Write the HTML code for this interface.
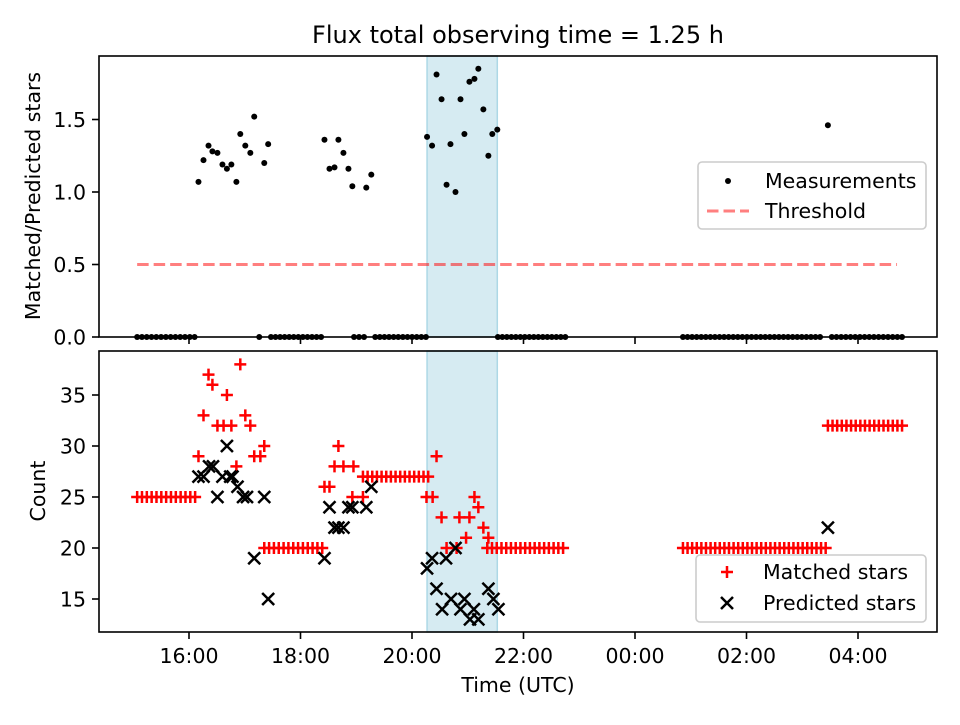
<!DOCTYPE html>
<html><head><meta charset="utf-8"><style>
body{margin:0;background:#fff;}
svg{font-family:"DejaVu Sans","Liberation Sans",sans-serif;}
</style></head><body>
<svg id="c" width="960" height="720" viewBox="0 0 960 720" xmlns="http://www.w3.org/2000/svg">
<rect width="960" height="720" fill="#fff"/>
<text x="518" y="43" font-size="24" text-anchor="middle">Flux total observing time = 1.25 h</text>
<g id="topPanel"></g><g id="botPanel"></g>
</svg>
<script>
// ---- data ----
const xTickHours = [16, 18, 20, 22, 24, 26, 28];
const xTickLabels = ["16:00","18:00","20:00","22:00","00:00","02:00","04:00"];
const topTicks = [0.0, 0.5, 1.0, 1.5];
const botTicks = [15, 20, 25, 30, 35];
const spanStart = 20.27, spanEnd = 21.53;
const thresholdValue = 0.5, thresholdStart = 15.07, thresholdEnd = 28.7;
const measTimes = [16.17,16.26,16.35,16.42,16.51,16.60,16.68,16.76,16.85,16.92,17.01,17.10,17.17,17.35,17.42,
 18.43,18.52,18.61,18.68,18.77,18.86,18.93,19.18,19.27,
 20.27,20.36,20.44,20.53,20.62,20.69,20.78,20.87,20.94,21.03,21.12,21.19,21.28,21.37,21.44,21.53,27.46];
const measValues = [1.07,1.22,1.32,1.28,1.27,1.19,1.16,1.19,1.07,1.40,1.32,1.27,1.52,1.20,1.33,
 1.36,1.16,1.17,1.36,1.27,1.16,1.04,1.03,1.12,
 1.38,1.32,1.81,1.64,1.05,1.33,1.00,1.64,1.40,1.76,1.78,1.85,1.57,1.25,1.40,1.43,1.46];
const zeroSegments = [[15.07,16.10],[17.26,17.26],[17.47,18.37],[18.96,19.14],[19.34,20.25],[21.54,22.75],[24.86,27.32],[27.53,28.79]];
const matchedSegments = [[15.07,16.11,25],[17.35,18.39,20],[19.12,20.29,27],[21.35,22.71,20],[24.86,27.42,20],[27.46,28.79,32]];
const matchedTimes = [16.17,16.26,16.35,16.42,16.51,16.62,16.76,16.68,16.92,17.01,17.10,16.85,17.17,17.28,17.35,
 18.43,18.52,18.61,18.68,18.77,18.95,18.93,19.12,
 20.44,20.26,20.37,20.53,20.85,21.03,21.12,21.19,20.97,21.28,21.37,20.62,20.80];
const matchedValues = [29,33,37,36,32,32,32,35,38,33,32,28,29,29,30,
 26,26,28,30,28,28,25,25,
 29,25,25,23,23,23,25,24,21,22,21,20,20];
const predTimes = [16.68,16.36,16.43,16.17,16.26,16.60,16.74,16.87,16.78,16.51,16.97,17.04,17.35,17.17,17.42,
 18.43,18.52,18.61,18.68,18.77,19.27,18.86,18.93,19.18,
 20.27,20.36,20.61,20.78,20.44,20.54,20.70,20.87,20.94,21.04,21.19,21.11,21.37,21.46,21.55,27.46];
const predValues = [30,28,28,27,27,27,27,26,27,25,25,25,25,19,15,
 19,24,22,22,22,26,24,24,24,
 18,19,19,20,16,14,15,14,15,13,13,14,16,15,14,22];

// ---- scales ----
const X0=99,X1=937;
const xs = t => 189 + (t-16)*55.75;
const yTop = v => 337 - v*145;
const yBot = v => 497 - (v-25)*10.2;
const NS="http://www.w3.org/2000/svg";
const FS=20.5;
function mk(parent, tag, attrs){const e=document.createElementNS(NS,tag);for(const k in attrs)e.setAttribute(k,attrs[k]);parent.appendChild(e);return e;}
function expand(s,e){const out=[];const n=Math.round((e-s)*12);for(let i=0;i<=n;i++)out.push(n?s+(e-s)*i/n:s);return out;}

const gTop=document.getElementById('topPanel'), gBot=document.getElementById('botPanel');
function frame(g, y0, y1, ticks, yf, fmt, showXLabels, nm){
  const sp=mk(g,'rect',{x:xs(spanStart),y:y0,width:xs(spanEnd)-xs(spanStart),height:y1-y0,fill:'#add8e6','fill-opacity':0.5,stroke:'#add8e6','stroke-width':1.5});
  
  
  ticks.forEach(v=>{const y=yf(v);
    mk(g,'line',{x1:X0-7,x2:X0,y1:y,y2:y,stroke:'#000','stroke-width':1.6});
    const t=mk(g,'text',{x:X0-13,y:y+7.5,'font-size':FS,'text-anchor':'end'});t.textContent=fmt(v);
    
    
  });
  xTickHours.forEach((h,i)=>{const x=xs(h);
    mk(g,'line',{x1:x,x2:x,y1:y1,y2:y1+7,stroke:'#000','stroke-width':1.6});
    if(showXLabels){const t=mk(g,'text',{x:x,y:y1+31,'font-size':FS,'text-anchor':'middle'});t.textContent=xTickLabels[i];
      
      }
  });
}
frame(gTop,56,337,topTicks,yTop,v=>v.toFixed(1),false,'top');
frame(gBot,351,632,botTicks,yBot,v=>String(v),true,'bottom');

const th=mk(gTop,'line',{x1:xs(thresholdStart),x2:xs(thresholdEnd),y1:yTop(thresholdValue),y2:yTop(thresholdValue),stroke:'#ff0000','stroke-opacity':0.5,'stroke-width':3,'stroke-dasharray':'11.5,5'});


function dot(t,v){const c=mk(gTop,'circle',{cx:xs(t),cy:yTop(v),r:3,fill:'#000'});
  
  }
zeroSegments.forEach(s=>expand(s[0],s[1]).forEach(t=>dot(t,0)));
measTimes.forEach((t,i)=>dot(t,measValues[i]));

function plus(g,x,y){return mk(g,'path',{d:`M${x-6},${y}H${x+6}M${x},${y-6}V${y+6}`,stroke:'#ff0000','stroke-width':2.5,fill:'none'});}
function cross(g,x,y){return mk(g,'path',{d:`M${x-6},${y-6}L${x+6},${y+6}M${x-6},${y+6}L${x+6},${y-6}`,stroke:'#000','stroke-width':2.5,fill:'none'});}
function mplus(t,v){const p=plus(gBot,xs(t),yBot(v));
  
  }
matchedSegments.forEach(s=>expand(s[0],s[1]).forEach(t=>mplus(t,s[2])));
matchedTimes.forEach((t,i)=>mplus(t,matchedValues[i]));
predTimes.forEach((t,i)=>{const p=cross(gBot,xs(t),yBot(predValues[i]));
  
  });

[[56,337,gTop],[351,632,gBot]].forEach(a=>{const r=mk(a[2],'rect',{x:X0,y:a[0],width:X1-X0,height:a[1]-a[0],fill:'none',stroke:'#000','stroke-width':1.6});
  
  });

const svgEl=document.getElementById('c');
function txt(x,y,s,rot){const t=mk(svgEl,'text',{x:x,y:y,'font-size':FS,'text-anchor':'middle'});if(rot)t.setAttribute('transform',`rotate(-90 ${x} ${y})`);t.textContent=s;return t;}
let t1=txt(40,196,'Matched/Predicted stars',true);


let t2=txt(45,491,'Count',true);


let t3=txt(518,692,'Time (UTC)',false);



const lg1=mk(svgEl,'g',{});


mk(lg1,'rect',{x:698,y:162,width:228,height:67,rx:4,fill:'#fff','fill-opacity':0.8,stroke:'#cccccc','stroke-width':1.6});
mk(lg1,'circle',{cx:728,cy:181,r:3,fill:'#000'});
let l=mk(lg1,'text',{x:765,y:188,'font-size':FS});l.textContent='Measurements';
mk(lg1,'line',{x1:707,x2:749,y1:211,y2:211,stroke:'#ff0000','stroke-opacity':0.5,'stroke-width':3,'stroke-dasharray':'11.5,5'});
l=mk(lg1,'text',{x:765,y:218,'font-size':FS});l.textContent='Threshold';
const lg2=mk(svgEl,'g',{});


mk(lg2,'rect',{x:696,y:555,width:230,height:67,rx:4,fill:'#fff','fill-opacity':0.8,stroke:'#cccccc','stroke-width':1.6});
plus(lg2,727,572);
l=mk(lg2,'text',{x:763,y:579,'font-size':FS});l.textContent='Matched stars';
cross(lg2,727,603);
l=mk(lg2,'text',{x:763,y:610,'font-size':FS});l.textContent='Predicted stars';
</script>
</body></html>
